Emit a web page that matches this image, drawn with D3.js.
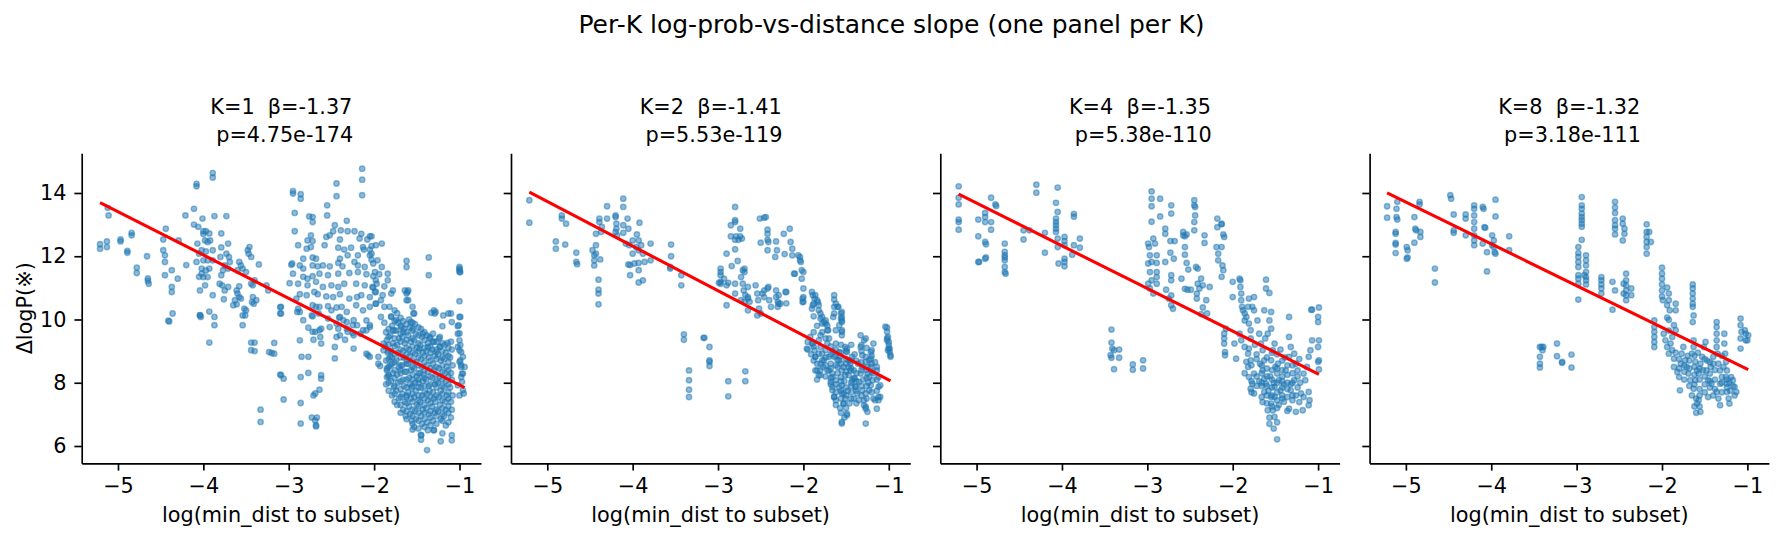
<!DOCTYPE html>
<html>
<head>
<meta charset="utf-8">
<script src="https://cdn.jsdelivr.net/npm/d3@7"></script>
<style>
    body { margin: 0; background: #fff; }
    svg text { font-family: "DejaVu Sans", "Noto Sans CJK JP", sans-serif; fill: #000; }
</style>
</head>
<body>
<div id="chart"></div>
<script>

// ---- data ----
const panelKs = [1, 2, 4, 8];
const betas = [-1.37, -1.41, -1.35, -1.32];
const intercepts = [6.56, 6.68, 6.93, 7.11];
const pValues = ["4.75e-174", "5.53e-119", "5.38e-110", "3.18e-111"];
const xTicks = [-5, -4, -3, -2, -1];
const yTicks = [6, 8, 10, 12, 14];
const xLimits = [-5.425, -0.748];
const yLimits = [5.453, 15.255];

const k1Points = [
    [-5.21,12.38],[-5.21,12.24],[-5.13,12.47],[-5.13,12.29],[-5.11,13.29],[-5.12,13.53],
    [-4.97,12.53],[-4.97,12.47],[-4.89,12.17],[-4.89,12.11],[-4.84,12.74],[-4.84,12.66],
    [-4.78,11.64],[-4.78,11.47],[-4.66,12.0],[-4.65,11.3],[-4.65,11.22],[-4.64,11.13],
    [-4.47,12.53],[-4.44,12.87],[-4.47,12.19],[-4.45,12.03],[-4.45,11.82],[-4.45,11.4],
    [-4.37,11.56],[-4.37,11.03],[-4.37,10.87],[-4.36,10.19],[-4.41,9.96],[-4.40,9.94],
    [-4.30,11.29],[-4.29,12.5],
    [-4.20,11.72],[-4.21,13.29],[-4.11,13.5],[-4.11,13.0],[-4.08,14.29],[-4.08,14.21],[-4.01,13.19],
    [-4.07,12.4],[-4.05,12.08],[-4.08,11.82],[-4.05,11.35],[-4.02,11.45],[-4.04,10.14],[-4.03,10.08],[-4.06,12.93],[-4.0,12.7],
    [-4.00,12.79],[-3.97,12.79],[-3.93,12.72],[-3.98,12.5],[-3.95,12.45],[-3.92,12.5],[-4.02,12.19],[-3.97,12.15],[-3.89,12.19],
    [-4.00,11.87],[-3.95,11.87],[-3.89,11.87],[-4.02,11.61],[-3.97,11.55],[-3.93,11.61],[-4.00,11.34],[-3.95,11.34],[-4.04,10.92],
    [-3.98,11.08],[-3.89,10.77],[-3.93,10.25],[-3.87,10.08],[-3.87,9.82],[-3.93,9.27],[-4.04,10.13],
    [-3.89,14.63],[-3.89,14.49],[-3.87,13.27],[-3.73,13.27],
    [-3.79,12.72],[-3.79,12.28],[-3.71,12.4],[-3.80,11.98],[-3.73,12.08],[-3.70,11.98],[-3.69,11.82],[-3.75,11.71],[-3.77,11.56],[-3.71,11.61],[-3.79,11.4],
    [-3.81,11.13],[-3.78,11.08],[-3.75,10.92],[-3.71,11.03],[-3.76,10.64],
    [-3.58,11.82],[-3.56,11.71],[-3.60,11.56],[-3.54,11.61],[-3.50,11.5],[-3.48,12.19],[-3.47,12.08],[-3.44,11.98],[-3.46,12.29],[-3.35,11.74],
    [-3.61,10.92],[-3.60,10.82],[-3.58,10.71],[-3.63,10.61],[-3.61,10.48],[-3.56,10.66],[-3.58,11.05],[-3.65,10.45],
    [-3.52,10.34],[-3.54,10.13],[-3.54,9.82],[-3.42,10.71],[-3.41,10.5],[-3.43,10.55],[-3.38,10.61],[-3.44,11.13],[-3.42,11.08],[-3.40,11.24],[-3.26,11.08],[-3.24,10.92],
    [-3.44,9.27],[-3.40,9.27],[-3.44,9.03],[-3.40,9.0],[-3.23,8.97],[-3.20,8.94],[-3.17,9.26],[-3.17,8.92],
    [-3.10,8.26],[-3.09,8.24],[-3.06,8.13],[-3.06,7.47],[-3.33,7.15],[-3.33,6.76],[-3.10,10.39],[-3.10,10.19],
    [-3.50,10.29],[-3.51,10.13],
    [-2.14,14.77],[-2.14,14.42],[-2.14,13.93],[-2.44,14.30],[-2.44,13.90],[-2.95,14.06],[-2.95,13.98],[-2.86,13.96],[-2.86,13.82],
    [-2.55,13.61],[-2.55,13.29],[-2.93,13.37],[-2.93,12.79],[-2.32,13.12],[-2.76,13.26],[-2.72,13.24],[-2.72,13.08],
    [-2.46,12.98],[-2.39,12.82],[-2.31,12.79],[-2.23,12.79],[-2.15,12.71],[-2.05,12.63],[-2.48,12.79],
    [-2.56,12.61],[-2.52,12.66],[-2.40,12.53],[-2.17,12.56],[-2.08,12.53],[-2.74,12.66],[-2.72,12.48],[-2.78,12.5],
    [-2.89,12.35],[-2.79,12.24],[-2.74,12.29],[-2.58,12.35],[-2.42,12.27],[-2.35,12.21],[-2.27,12.27],[-2.13,12.29],[-2.12,12.21],[-2.05,12.21],[-1.98,12.35],
    [-2.83,11.92],[-2.72,11.96],[-2.68,11.92],[-2.40,11.92],[-2.31,12.03],[-2.19,12.03],[-2.05,12.03],[-1.96,11.87],[-2.97,11.73],[-2.87,11.71],
    [-2.83,11.61],[-2.72,11.71],[-2.66,11.68],[-2.60,11.71],[-2.52,11.68],[-2.42,11.79],[-2.37,11.68],[-2.23,11.82],[-2.19,11.71],[-2.11,11.66],[-2.01,11.77],
    [-2.95,11.45],[-2.83,11.35],[-2.78,11.29],[-2.72,11.37],[-2.64,11.45],[-2.54,11.40],[-2.42,11.45],[-2.29,11.47],[-2.19,11.50],[-2.09,11.43],[-2.01,11.37],[-1.94,11.43],
    [-2.99,11.15],[-2.89,11.13],[-2.78,11.08],[-2.68,11.19],[-2.60,11.03],[-2.50,11.08],[-2.42,11.03],[-2.35,11.13],[-2.21,11.13],[-2.11,11.08],[-2.01,11.01],[-1.97,11.13],
    [-2.87,10.80],[-2.79,10.77],[-2.70,10.87],[-2.66,10.80],[-2.56,10.73],[-2.48,10.71],[-2.40,10.80],[-2.29,10.66],[-2.20,10.71],[-2.15,10.77],[-2.05,10.71],[-1.99,10.87],
    [-2.89,10.34],[-2.87,10.24],[-2.72,10.45],[-2.68,10.40],[-2.64,10.40],[-2.54,10.42],[-2.50,10.29],[-2.44,10.38],[-2.38,10.40],[-2.32,10.24],[-2.21,10.45],
    [-2.13,10.29],[-2.05,10.40],[-1.98,10.50],[-3.09,10.40],[-3.09,10.19],
    [-2.72,10.10],[-2.54,10.03],[-2.41,10.06],[-2.32,9.92],[-2.25,9.82],[-2.09,9.97],[-2.05,9.76],[-2.62,9.71],[-2.52,9.76],[-2.72,9.61],[-2.42,9.71],
    [-2.40,9.50],[-2.31,9.61],[-2.25,9.57],[-2.13,9.66],
    [-2.96,11.77],[-2.91,10.66],[-2.90,10.24],[-2.73,10.13],[-2.65,10.19],[-2.64,9.66],[-2.63,9.45],[-2.44,9.87],[-2.20,9.82],[-2.16,9.55],
    [-2.87,9.34],[-2.85,8.82],[-2.77,8.82],[-2.77,8.31],[-2.86,8.18],[-2.86,7.36],[-2.86,6.71],[-2.73,6.9],[-2.69,6.81],[-2.68,6.66],[-2.68,6.62],
    [-2.67,6.9],[-2.64,7.78],[-2.62,8.24],[-2.62,8.13],[-2.71,7.6],[-2.69,7.66],[-2.62,9.24],[-2.71,9.36],[-2.69,9.61],[-2.77,9.74],[-2.83,9.98],
    [-2.46,9.13],[-2.46,8.77],[-2.34,9.36],[-2.24,9.08],[-2.24,9.5],[-2.32,9.71],[-2.44,9.45],[-2.36,9.98],[-2.40,10.08],[-2.24,9.98],[-2.09,9.66],
    [-2.05,9.82],[-2.09,8.92],[-2.07,8.87],[-2.05,8.82],[-1.95,8.82],[-1.95,8.6],[-1.93,8.53],[-1.89,9.03],[-1.89,9.24],[-1.85,8.39],[-1.85,8.18],[-1.79,8.6],[-1.81,8.82],
    [-2.03,12.63],[-2.03,12.32],[-2.03,12.08],[-2.03,11.89],[-1.91,12.4],[-1.36,11.96],[-1.36,11.40],[-1.62,11.85],[-1.62,11.66],[-1.00,11.61],[-1.00,11.50],[-1.00,10.58],[-1.91,11.66],
    [-1.99,11.50],[-1.98,11.24],[-2.02,11.03],[-1.98,10.87],[-1.84,11.45],[-1.84,11.24],[-1.88,11.05],[-1.78,10.92],[-1.80,10.82],[-1.90,10.77],[-1.92,10.61],
    [-1.64,10.92],[-1.61,10.87],[-1.62,10.61],[-1.98,10.5],[-1.88,10.4],[-1.76,10.29],[-1.82,10.4],[-1.55,10.4],[-1.53,10.19],[-1.33,10.21],[-1.29,10.19],
    [-1.10,10.19],[-1.00,10.08],[-1.09,9.92],[-1.20,9.79],[-1.02,9.79],[-1.92,10.08],
    [-1.80,10.08],[-1.74,9.98],[-1.68,9.76],[-1.78,9.66],[-1.66,9.61],[-1.57,9.92],[-1.55,9.71],[-1.43,9.55],[-1.35,9.45],[-1.23,9.45],[-1.14,9.26],
    [-1.02,9.55],[-1.00,9.34],[-1.02,9.13],[-0.98,8.97],[-0.96,8.82],[-1.00,8.66],[-0.98,8.5],[-0.96,8.29],[-1.31,9.29],[-1.23,9.13],[-1.27,8.97],[-1.37,9.13],[-1.47,9.08],
    [-1.0,11.66],[-1.0,11.56],[-0.99,11.5],[-0.99,10.08],[-1.01,9.82],[-1.0,9.56],[-0.99,9.19],[-1.0,9.03],[-0.99,8.71],[-0.98,8.56],
    [-0.97,8.29],[-0.98,8.18],[-0.97,8.03],[-0.96,7.76],[-0.95,7.66],[-1.02,7.92],[-1.0,7.6],[-0.94,8.5],
    [-1.30,10.29],[-1.28,10.24],[-1.19,10.13],[-1.13,10.19],[-1.54,10.19],[-1.60,10.61],[-1.62,10.82],[-1.60,10.92],
    [-1.88,9.9],[-1.86,9.6],[-1.85,9.35],[-1.87,9.15],[-1.84,8.95],[-1.86,8.7],[-1.85,8.45],[-1.83,8.2],[-1.86,7.95],
    [-1.80,10.1],[-1.79,9.8],[-1.81,9.5],[-1.78,9.25],[-1.80,9.0],[-1.79,8.8],[-1.81,8.55],[-1.78,8.3],[-1.80,8.05],[-1.77,7.85],[-1.79,7.6],
    [-1.73,10.2],[-1.72,9.9],[-1.74,9.65],[-1.71,9.4],[-1.73,9.2],[-1.72,8.95],[-1.74,8.7],[-1.71,8.5],[-1.73,8.25],[-1.72,8.0],[-1.74,7.75],[-1.71,7.5],[-1.73,7.3],
    [-1.66,9.95],[-1.65,9.7],[-1.67,9.45],[-1.64,9.25],[-1.66,9.0],[-1.65,8.8],[-1.67,8.55],[-1.64,8.35],[-1.66,8.1],[-1.65,7.9],[-1.67,7.65],[-1.64,7.4],[-1.66,7.15],[-1.63,6.95],
    [-1.59,10.0],[-1.58,9.75],[-1.60,9.5],[-1.57,9.3],[-1.59,9.05],[-1.58,8.85],[-1.60,8.6],[-1.57,8.4],[-1.59,8.15],[-1.58,7.95],[-1.60,7.7],[-1.57,7.5],[-1.59,7.25],[-1.58,7.0],[-1.56,6.8],
    [-1.52,9.85],[-1.51,9.55],[-1.53,9.35],[-1.50,9.1],[-1.52,8.9],[-1.51,8.65],[-1.53,8.45],[-1.50,8.2],[-1.52,8.0],[-1.51,7.75],[-1.53,7.55],[-1.50,7.3],[-1.52,7.1],[-1.51,6.85],[-1.53,6.6],
    [-1.45,9.7],[-1.44,9.45],[-1.46,9.2],[-1.43,8.95],[-1.45,8.75],[-1.44,8.5],[-1.46,8.3],[-1.43,8.05],[-1.45,7.85],[-1.44,7.6],[-1.46,7.4],[-1.43,7.15],[-1.45,6.95],[-1.44,6.7],[-1.45,6.35],
    [-1.38,9.5],[-1.37,9.25],[-1.39,9.0],[-1.36,8.8],[-1.38,8.55],[-1.37,8.35],[-1.39,8.1],[-1.36,7.9],[-1.38,7.65],[-1.37,7.45],[-1.39,7.2],[-1.36,7.0],[-1.38,6.75],[-1.37,6.5],[-1.38,5.87],
    [-1.31,9.55],[-1.30,9.3],[-1.32,9.05],[-1.29,8.85],[-1.31,8.6],[-1.30,8.4],[-1.32,8.15],[-1.29,7.95],[-1.31,7.7],[-1.30,7.5],[-1.32,7.25],[-1.29,7.05],[-1.31,6.8],[-1.30,6.5],
    [-1.24,9.4],[-1.23,9.15],[-1.25,8.9],[-1.22,8.7],[-1.24,8.45],[-1.23,8.2],[-1.25,8.0],[-1.22,7.75],[-1.24,7.55],[-1.23,7.3],[-1.25,7.1],[-1.22,6.85],[-1.22,6.15],
    [-1.17,9.2],[-1.16,8.95],[-1.18,8.75],[-1.15,8.5],[-1.17,8.3],[-1.16,8.05],[-1.18,7.85],[-1.15,7.6],[-1.17,7.4],[-1.16,7.15],[-1.18,6.95],[-1.16,6.65],
    [-1.10,9.3],[-1.09,9.05],[-1.11,8.8],[-1.08,8.55],[-1.10,8.3],[-1.09,8.1],[-1.11,7.85],[-1.08,7.6],[-1.10,7.4],[-1.09,7.15],[-1.10,6.9],[-1.09,6.34],[-1.09,6.18],
    [-1.55,8.25],[-1.48,8.0],[-1.62,8.7],[-1.42,8.25],[-1.35,7.75],[-1.27,8.5],[-1.56,7.85],[-1.69,8.4],[-1.48,7.25],[-1.41,7.9],[-1.34,8.2],[-1.62,7.6],[-1.28,7.4],
    [-1.45,6.2],[-1.45,6.34],[-1.55,6.52],[-1.30,6.5],[-1.20,6.4],
    [-1.83,9.7],[-1.83,9.45],[-1.83,9.2],[-1.83,9.0],[-1.83,8.75],[-1.83,8.5],[-1.83,8.25],[-1.83,8.0],[-1.83,7.75],
    [-1.76,9.95],[-1.76,9.65],[-1.76,9.4],[-1.76,9.15],[-1.76,8.9],[-1.76,8.65],[-1.76,8.4],[-1.76,8.15],[-1.76,7.9],[-1.76,7.65],[-1.76,7.4],
    [-1.69,10.05],[-1.69,9.8],[-1.69,9.55],[-1.69,9.3],[-1.69,9.05],[-1.69,8.8],[-1.69,8.55],[-1.69,8.3],[-1.69,8.05],[-1.69,7.8],[-1.69,7.55],[-1.69,7.3],[-1.69,7.05],
    [-1.62,9.85],[-1.62,9.6],[-1.62,9.35],[-1.62,9.1],[-1.62,8.9],[-1.62,8.6],[-1.62,8.35],[-1.62,8.1],[-1.62,7.85],[-1.62,7.55],[-1.62,7.35],[-1.62,7.1],[-1.62,6.85],
    [-1.55,9.9],[-1.55,9.65],[-1.55,9.4],[-1.55,9.15],[-1.55,8.95],[-1.55,8.7],[-1.55,8.5],[-1.55,8.1],[-1.55,7.9],[-1.55,7.65],[-1.55,7.4],[-1.55,7.15],[-1.55,6.95],[-1.55,6.7],
    [-1.48,9.75],[-1.48,9.5],[-1.48,9.25],[-1.48,9.0],[-1.48,8.8],[-1.48,8.55],[-1.48,8.3],[-1.48,8.1],[-1.48,7.85],[-1.48,7.6],[-1.48,7.45],[-1.48,7.05],[-1.48,6.8],[-1.48,6.55],
    [-1.41,9.6],[-1.41,9.35],[-1.41,9.1],[-1.41,8.85],[-1.41,8.65],[-1.41,8.4],[-1.41,8.15],[-1.41,7.7],[-1.41,7.5],[-1.41,7.3],[-1.41,7.05],[-1.41,6.85],[-1.41,6.6],
    [-1.34,9.4],[-1.34,9.15],[-1.34,8.95],[-1.34,8.7],[-1.34,8.45],[-1.34,7.95],[-1.34,7.55],[-1.34,7.35],[-1.34,7.1],[-1.34,6.9],[-1.34,6.65],
    [-1.27,9.3],[-1.27,9.05],[-1.27,8.75],[-1.27,8.25],[-1.27,8.05],[-1.27,7.85],[-1.27,7.6],[-1.27,7.15],[-1.27,6.95],[-1.27,6.7],
    [-1.20,9.25],[-1.20,9.0],[-1.20,8.8],[-1.20,8.55],[-1.20,8.35],[-1.20,8.1],[-1.20,7.9],[-1.20,7.65],[-1.20,7.45],[-1.20,7.2],[-1.20,7.0],[-1.20,6.8],
    [-1.13,9.1],[-1.13,8.85],[-1.13,8.65],[-1.13,8.4],[-1.13,8.2],[-1.13,7.95],[-1.13,7.7],[-1.13,7.5],[-1.13,7.25],[-1.13,7.05],[-1.13,6.75]
];

const k2Points = [
    [-5.21,13.77],[-5.21,13.06],
    [-4.90,12.47],[-4.90,12.24],[-4.83,13.29],[-4.83,13.19],[-4.78,13.03],[-4.79,12.37],
    [-4.66,12.11],[-4.66,11.82],[-4.65,11.75],
    [-4.47,12.19],[-4.45,12.03],[-4.45,11.87],[-4.45,11.71],[-4.43,12.35],[-4.43,12.71],[-4.43,12.08],
    [-4.40,11.26],[-4.40,10.94],[-4.40,10.82],[-4.40,10.48],
    [-4.38,11.9],[-4.39,13.19],[-4.39,13.08],[-4.37,12.77],[-4.36,12.93],[-4.30,13.58],[-4.30,13.19],
    [-4.20,13.29],[-4.20,13.24],[-4.19,13.03],[-4.19,12.87],[-4.20,12.77],[-4.18,12.66],[-4.11,13.82],[-4.11,13.56],[-4.11,12.98],[-4.11,12.74],
    [-4.06,13.19],[-4.05,12.87],[-3.92,13.06],
    [-4.08,12.40],[-4.04,12.35],[-4.0,12.5],[-3.96,12.29],[-3.95,12.69],[-3.93,12.5],[-3.93,12.19],[-3.90,12.35],[-3.88,12.08],[-4.0,12.08],
    [-4.05,11.74],[-4.03,11.72],[-3.98,11.77],[-3.93,11.79],[-3.86,11.82],[-3.79,11.87],[-3.79,12.4],[-3.93,11.56],[-4.03,11.40],[-3.93,11.17],[-3.88,11.24],
    [-3.55,12.37],[-3.55,12.0],[-3.56,11.66],[-3.56,11.61],[-3.43,11.40],[-3.43,11.08],
    [-3.40,9.53],[-3.40,9.36],[-3.17,9.42],[-3.16,9.42],[-3.10,9.13],[-3.10,8.71],[-3.10,8.66],[-3.10,8.53],
    [-3.34,8.39],[-3.34,8.08],[-3.34,7.78],[-3.34,7.55],[-2.88,8.05],[-2.88,7.57],[-2.68,8.36],[-2.68,8.05],
    [-2.80,13.56],[-2.85,12.98],[-2.80,13.14],[-2.80,13.08],[-2.74,12.87],[-2.74,12.63],[-2.79,12.63],[-2.85,12.63],[-2.76,12.52],[-2.72,12.56],
    [-2.80,12.52],[-2.80,12.22],[-2.90,12.08],[-2.84,11.69],[-2.77,11.85],
    [-2.97,11.61],[-2.97,11.50],[-2.97,11.40],[-2.97,11.19],[-2.97,11.13],[-2.99,11.16],[-2.93,11.29],[-2.90,11.08],[-2.90,10.45],[-2.88,11.16],
    [-2.80,11.13],[-2.80,10.82],[-2.73,11.34],[-2.71,11.56],[-2.69,11.61],[-2.69,11.50],[-2.71,11.13],[-2.70,10.92],[-2.68,10.77],[-2.65,11.03],
    [-2.65,10.71],[-2.63,10.56],[-2.65,10.29],[-2.73,10.61],[-2.69,10.56],[-2.65,10.66],
    [-2.56,11.08],[-2.54,10.82],[-2.53,10.61],[-2.52,10.34],[-2.50,10.19],[-2.54,10.13],[-2.48,10.82],[-2.46,10.92],[-2.46,10.71],[-2.42,10.98],
    [-2.41,11.03],[-2.40,10.61],[-2.38,10.40],[-2.32,10.92],[-2.32,10.71],[-2.30,10.56],[-2.29,10.50],[-2.30,10.40],[-2.20,10.87],[-2.20,10.51],
    [-2.51,13.19],[-2.46,13.22],[-2.44,13.24],[-2.42,12.84],[-2.42,12.71],[-2.42,12.52],[-2.41,12.45],[-2.50,12.43],[-2.42,12.19],[-2.32,12.47],
    [-2.31,12.19],[-2.33,11.98],[-2.23,12.71],[-2.16,12.87],[-2.15,12.45],[-2.13,12.24],[-2.13,12.03],[-2.22,12.07],[-2.10,11.45],[-2.06,12.03],
    [-2.04,11.98],[-2.04,11.87],[-2.03,11.82],[-2.02,11.56],[-2.0,11.50],[-2.02,11.29],[-2.0,10.98],[-2.0,10.71],[-2.0,10.56],
    [-2.11,11.45],[-2.21,10.87],[-2.29,10.77],[-2.27,10.50],[-2.01,10.66],[-2.01,10.55],
    [-1.89,10.77],[-1.87,10.66],[-1.89,10.45],[-1.84,10.61],[-1.82,10.45],[-1.80,10.19],[-1.78,10.08],[-1.76,9.92],[-1.74,9.87],[-1.72,9.81],[-1.71,9.66],
    [-1.64,10.63],[-1.64,10.40],[-1.60,10.40],[-1.55,10.24],[-1.55,10.08],[-1.55,9.92],[-1.56,10.03],[-1.55,9.61],[-1.55,9.50],[-1.65,10.08],[-1.62,9.66],
    [-1.95,9.29],[-1.95,9.05],[-1.92,9.45],[-1.89,9.24],[-1.87,9.03],[-1.86,8.82],[-1.84,8.60],[-1.86,8.39],[-1.82,8.24],[-1.80,9.13],[-1.78,8.92],
    [-1.76,8.71],[-1.77,8.50],[-1.82,9.34],[-1.72,9.24],[-1.74,9.03],[-1.70,8.82],[-1.72,8.39],[-1.66,8.29],[-1.68,8.03],[-1.66,7.76],[-1.64,7.55],
    [-1.62,8.08],[-1.60,8.50],[-1.58,8.71],[-1.55,8.39],[-1.56,8.18],[-1.55,7.92],[-1.53,7.66],[-1.53,7.34],[-1.51,7.50],[-1.55,6.76],[-1.49,7.02],
    [-1.47,8.24],[-1.45,8.60],[-1.43,8.82],[-1.41,8.39],[-1.43,8.08],[-1.39,7.87],[-1.35,8.03],[-1.33,8.29],[-1.31,8.50],[-1.32,9.19],[-1.31,8.87],
    [-1.27,8.66],[-1.25,8.29],[-1.21,8.76],[-1.21,8.97],[-1.21,8.50],[-1.19,8.08],[-1.27,7.66],[-1.29,7.29],[-1.27,7.18],[-1.27,6.71],[-1.18,7.50],
    [-1.12,7.55],[-1.12,7.45],[-1.14,7.18],[-1.10,7.92],[-1.33,9.50],[-1.27,9.40],[-1.49,8.97],[-1.51,9.13],[-1.62,9.24],[-1.58,8.97],[-1.64,8.82],
    [-1.47,8.50],[-1.41,7.50],[-1.37,7.66],[-1.23,7.76],[-1.35,7.45],
    [-1.60,8.30],[-1.52,8.05],[-1.48,7.75],[-1.44,7.9],[-1.58,7.85],[-1.50,8.6],[-1.68,8.6],[-1.40,8.15],[-1.36,8.6],[-1.30,8.1],[-1.24,8.0],
    [-1.46,7.35],[-1.57,7.2],[-1.52,6.9],[-1.62,7.3],[-1.70,9.4],[-1.78,9.6],[-1.88,10.1],[-1.84,9.8],[-1.66,9.0],[-1.40,8.9],[-1.18,8.3],
    [-1.16,8.65],[-1.84,8.1],[-1.91,8.9],
    [-1.90,10.87],[-1.86,10.77],[-1.88,10.50],[-1.90,10.34],[-1.82,10.29],[-1.83,10.55],[-1.80,10.03],[-1.78,9.87],[-1.74,9.97],[-1.72,9.66],
    [-1.64,10.77],[-1.64,10.19],[-1.62,10.50],[-1.59,10.40],[-1.56,10.19],[-1.55,9.97],[-1.55,9.66],[-1.58,9.82],
    [-1.96,9.08],[-1.90,9.24],[-1.86,8.82],[-1.82,8.92],[-1.78,8.71],[-1.84,8.39],[-1.80,8.24],[-1.70,8.39],[-1.66,8.18],[-1.66,7.87],[-1.64,7.55],
    [-1.60,8.71],[-1.57,8.82],[-1.53,8.50],[-1.51,8.24],[-1.49,9.08],[-1.47,8.71],[-1.45,8.39],[-1.41,8.13],[-1.39,7.87],[-1.33,9.13],[-1.29,9.34],
    [-1.27,8.82],[-1.25,8.50],[-1.23,8.18],[-1.21,7.92],[-1.23,8.71],[-1.20,9.03],[-1.18,9.24],[-1.31,7.76],[-1.29,7.45],[-1.27,7.24],[-1.25,7.08],
    [-1.55,7.66],[-1.53,7.34],[-1.49,6.97],[-1.55,6.71],[-1.14,8.39],[-1.12,8.18],[-1.12,7.87],[-1.10,7.55],[-1.16,7.45],
    [-1.04,9.77],[-1.02,9.34],[-1.00,9.08],[-0.98,8.82],
    [-1.02,9.74],[-1.02,9.61],[-1.01,9.45],[-1.00,9.29],[-1.00,9.19],[-0.99,9.08],[-0.99,8.97],[-0.98,8.87],[-1.01,9.03],[-1.02,9.40],
    [-1.88,9.6],[-1.88,9.15],[-1.88,8.7],[-1.80,9.5],[-1.80,8.6],[-1.80,8.4],[-1.74,9.4],[-1.74,8.8],[-1.74,8.55],[-1.74,8.2],
    [-1.68,9.15],[-1.68,8.9],[-1.68,8.45],[-1.68,8.15],[-1.68,7.95],[-1.62,9.05],[-1.62,8.85],[-1.62,8.55],[-1.62,7.95],[-1.62,7.7],[-1.62,7.45],
    [-1.56,9.2],[-1.56,8.95],[-1.56,8.6],[-1.56,8.05],[-1.56,7.75],[-1.56,7.5],[-1.56,7.05],[-1.50,9.0],[-1.50,8.75],[-1.50,8.35],[-1.50,7.85],[-1.50,7.6],[-1.50,7.2],
    [-1.44,9.2],[-1.44,8.7],[-1.44,8.45],[-1.44,8.0],[-1.44,7.7],[-1.44,7.5],[-1.38,8.7],[-1.38,8.3],[-1.38,8.05],[-1.38,7.75],[-1.38,7.35],
    [-1.32,9.0],[-1.32,8.65],[-1.32,8.4],[-1.32,7.9],[-1.32,7.6],[-1.26,9.1],[-1.26,8.4],[-1.26,8.15],[-1.26,7.9],[-1.26,7.5],
    [-1.20,8.85],[-1.20,8.6],[-1.20,8.35],[-1.20,7.7],[-1.14,8.5],[-1.14,8.1],[-1.14,7.75]
];

const k4Points = [
    [-5.21,14.21],[-5.21,13.85],[-5.21,13.64],[-5.21,13.16],[-5.21,13.08],[-5.21,12.84],
    [-4.98,13.16],[-4.98,12.63],[-4.98,11.82],[-4.97,11.82],
    [-4.90,13.37],[-4.90,13.24],[-4.90,13.08],[-4.90,12.45],[-4.89,12.38],[-4.90,11.92],[-4.89,11.96],
    [-4.83,13.85],[-4.83,13.08],[-4.83,12.84],[-4.78,13.64],[-4.77,13.59],
    [-4.67,12.40],[-4.67,12.14],[-4.67,12.03],[-4.67,11.96],[-4.67,11.87],[-4.67,11.66],[-4.67,11.50],[-4.66,11.45],
    [-4.45,12.82],[-4.45,12.53],[-4.38,12.82],[-4.30,14.26],[-4.30,14.01],[-4.20,12.74],[-4.20,12.11],
    [-4.07,13.69],[-4.07,13.19],[-4.07,13.08],[-4.07,12.98],[-4.07,12.87],[-4.07,12.77],[-4.05,13.40],[-4.05,14.17],[-4.05,12.56],[-4.05,12.29],
    [-4.04,11.77],[-3.97,12.61],[-3.97,12.48],[-3.97,12.35],[-3.97,11.92],[-3.97,11.82],[-3.97,11.68],[-3.86,13.34],[-3.86,13.25],[-3.86,12.35],
    [-3.79,12.56],[-3.79,12.27],[-3.88,12.05],
    [-3.42,9.68],[-3.42,9.27],[-3.41,9.08],[-3.39,9.03],[-3.43,8.87],[-3.42,8.79],[-3.39,8.43],[-3.33,9.05],[-3.33,8.79],[-3.17,8.58],[-3.17,8.41],[-3.05,8.71],[-3.05,8.45],
    [-2.95,14.05],[-2.95,13.82],[-2.95,13.58],[-2.95,13.09],[-2.85,13.82],[-2.85,13.26],[-2.99,12.40],[-2.98,12.29],[-2.97,12.03],[-2.99,11.77],
    [-2.97,11.50],[-2.95,11.24],[-2.99,11.13],[-2.97,10.98],[-2.93,10.82],[-2.93,12.56],[-2.95,11.82],[-2.91,12.40],[-2.89,12.03],[-2.89,11.79],
    [-2.89,11.50],[-2.89,11.34],[-2.89,11.13],[-2.79,12.87],[-2.79,12.71],[-2.79,11.82],[-2.78,10.94],[-2.73,12.11],[-2.73,12.48],[-2.68,12.48],
    [-2.69,11.92],[-2.72,11.40],[-2.72,11.24],[-2.72,10.76],[-2.75,10.66],[-2.72,10.45],[-2.70,10.34],[-2.72,13.61],[-2.72,13.35],
    [-2.60,11.29],[-2.58,12.77],[-2.58,12.66],[-2.56,12.63],[-2.54,12.69],[-2.56,12.29],[-2.56,12.05],[-2.54,11.79],[-2.52,11.58],[-2.53,10.94],
    [-2.56,10.97],[-2.49,10.94],[-2.45,13.77],[-2.45,13.61],[-2.44,13.56],[-2.44,13.29],[-2.45,13.08],[-2.45,12.82],[-2.43,11.66],[-2.41,11.61],
    [-2.41,11.13],[-2.39,10.98],[-2.42,10.82],[-2.42,10.66],[-2.37,11.29],[-2.35,11.08],[-2.35,10.38],[-2.37,10.17],[-2.31,10.61],[-2.27,11.03],
    [-2.30,10.19],[-2.33,12.66],[-2.33,12.42],
    [-2.18,13.19],[-2.18,12.92],[-2.13,13.03],[-2.13,13.01],[-2.11,12.69],[-2.10,12.61],[-2.19,12.29],[-2.17,12.08],[-2.17,11.87],[-2.13,12.29],
    [-2.12,11.71],[-2.11,11.56],[-2.13,11.35],
    [-2.10,9.55],[-2.10,9.40],[-2.10,9.24],[-2.09,8.97],[-2.09,8.87],[-2.08,9.71],[-2.00,11.19],[-2.00,10.71],[-1.98,9.24],[-1.96,8.76],
    [-1.92,11.29],[-1.91,11.24],[-1.91,11.03],[-1.90,10.82],[-1.90,10.61],[-1.89,10.40],[-1.88,10.29],[-1.86,10.19],[-1.86,9.97],[-1.84,10.08],
    [-1.82,10.40],[-1.81,9.87],[-1.79,9.66],[-1.79,9.40],[-1.81,9.08],[-1.77,10.40],[-1.75,10.29],[-1.81,10.66],[-1.75,10.71],[-1.92,9.55],
    [-1.90,9.34],[-1.86,9.13],[-1.82,8.92],[-1.84,8.66],[-1.82,8.50],[-1.79,8.71],[-1.81,8.18],[-1.75,8.29],[-1.77,7.97],[-1.79,7.81],
    [-1.75,7.66],[-1.71,9.97],[-1.69,9.55],[-1.67,9.24],[-1.65,9.03],[-1.63,8.71],[-1.65,8.39],[-1.63,8.13],[-1.61,7.97],[-1.63,7.71],
    [-1.65,7.39],[-1.59,7.13],[-1.55,7.34],[-1.53,7.13],[-1.57,6.90],[-1.51,6.92],[-1.61,11.26],[-1.61,10.98],[-1.57,10.84],[-1.63,10.29],
    [-1.55,10.24],[-1.57,9.97],[-1.55,9.71],[-1.59,9.55],[-1.51,9.24],[-1.53,9.03],[-1.55,8.71],[-1.50,8.50],[-1.48,8.29],[-1.46,8.08],
    [-1.51,7.87],[-1.44,7.76],[-1.42,7.60],[-1.48,7.45],[-1.51,7.55],[-1.38,8.39],[-1.36,8.55],[-1.34,8.82],[-1.34,9.45],[-1.34,10.08],
    [-1.32,9.13],[-1.28,8.92],[-1.26,8.60],[-1.24,8.39],[-1.28,8.08],[-1.32,7.76],[-1.30,7.45],[-1.34,7.18],[-1.36,7.11],[-1.26,7.08],
    [-1.22,7.39],[-1.20,7.66],[-1.17,7.55],[-1.15,8.08],[-1.17,8.29],[-1.18,7.13],[-1.11,7.71],[-1.10,7.45],[-1.11,7.29],
    [-1.08,10.31],[-1.07,10.31],[-0.99,10.38],[-1.00,10.08],[-1.00,9.92],[-0.99,9.34],[-1.00,9.13],[-0.99,8.71],[-1.00,8.66],[-0.99,8.42],
    [-1.07,9.34],[-1.09,9.03],[-1.11,8.82],[-1.13,8.50],
    [-1.72,8.9],[-1.68,8.6],[-1.6,8.45],[-1.56,8.2],[-1.52,8.0],[-1.47,8.6],[-1.42,8.2],[-1.4,7.95],[-1.58,7.75],[-1.69,8.05],
    [-1.46,7.3],[-1.39,8.8],[-1.3,8.3],[-1.21,8.0],[-1.22,8.75],[-1.62,9.4],[-1.74,9.2],[-1.86,8.3],[-1.44,9.05],[-1.55,7.55],
    [-1.66,7.9],[-1.32,7.95],[-1.26,7.6],[-1.4,7.4],[-1.57,6.7],[-1.48,6.75],[-1.52,6.55],[-1.48,6.21],
    [-1.78,8.55],[-1.78,8.05],[-1.78,7.7],[-1.72,8.75],[-1.72,8.2],[-1.72,7.9],[-1.66,8.55],[-1.66,8.3],[-1.66,8.0],[-1.66,7.55],
    [-1.60,8.8],[-1.60,8.2],[-1.60,7.9],[-1.60,7.6],[-1.60,7.35],[-1.54,8.95],[-1.54,8.4],[-1.54,8.1],[-1.54,7.85],[-1.54,7.6],[-1.54,7.25],
    [-1.48,8.9],[-1.48,8.45],[-1.48,8.0],[-1.48,7.7],[-1.48,7.2],[-1.42,8.7],[-1.42,8.4],[-1.42,8.05],[-1.42,7.85],[-1.42,7.5],
    [-1.36,8.25],[-1.36,8.0],[-1.36,7.8],[-1.36,7.55],[-1.30,8.55],[-1.30,8.0],[-1.30,7.6],[-1.24,8.2],[-1.24,7.85]
];

const k8Points = [
    [-5.22,13.58],[-5.22,13.22],
    [-5.12,12.77],[-5.12,12.71],[-5.11,13.5],[-5.11,13.24],[-5.10,13.16],[-5.12,12.42],[-5.12,12.37],[-5.12,12.10],[-5.10,13.72],
    [-4.99,12.29],[-4.98,12.19],[-4.98,11.96],[-4.99,11.92],
    [-4.90,13.24],[-4.89,12.87],[-4.88,12.82],[-4.84,13.72],[-4.84,13.64],[-4.83,12.77],[-4.83,12.61],[-4.90,12.43],
    [-4.66,11.61],[-4.66,11.17],
    [-4.48,13.93],[-4.47,13.82],[-4.44,13.32],[-4.44,12.82],[-4.44,12.74],
    [-4.30,13.32],[-4.30,13.19],[-4.30,12.66],[-4.20,13.61],[-4.20,13.5],[-4.20,13.29],[-4.20,13.08],[-4.20,12.87],[-4.20,12.66],[-4.20,12.50],
    [-4.20,12.35],[-4.10,13.56],[-4.09,13.50],[-4.08,12.92],[-4.07,12.90],[-4.10,12.40],
    [-4.05,11.52],[-4.05,12.13],[-3.99,12.66],[-3.97,12.50],[-3.97,12.29],[-3.96,12.13],[-3.95,12.08],[-3.99,12.35],[-3.95,13.79],[-3.95,13.26],
    [-3.79,12.63],[-3.79,12.19],
    [-3.43,9.13],[-3.41,9.13],[-3.39,9.13],[-3.43,8.82],[-3.43,8.60],[-3.43,8.48],[-3.40,9.03],[-3.23,9.24],[-3.23,8.84],[-3.17,8.66],
    [-3.17,8.63],[-3.06,8.89],[-3.06,8.48],
    [-2.94,13.87],[-2.94,13.61],[-2.94,13.50],[-2.94,13.35],[-2.94,13.24],[-2.94,13.14],[-2.94,13.03],[-2.94,12.93],[-2.94,12.52],[-2.98,12.29],
    [-2.98,12.10],[-2.98,11.98],[-2.98,11.82],[-2.98,11.66],[-2.98,11.40],[-2.98,11.29],[-2.98,11.13],[-2.98,10.63],[-2.89,12.03],[-2.89,11.87],
    [-2.89,11.71],[-2.89,11.50],[-2.89,11.34],[-2.89,11.24],[-2.89,11.11],[-2.91,11.40],
    [-2.71,11.34],[-2.71,11.24],[-2.71,11.11],[-2.71,10.98],[-2.71,10.82],[-2.58,11.19],[-2.55,10.92],[-2.58,10.31],
    [-2.55,13.72],[-2.55,13.54],[-2.55,13.37],[-2.55,13.14],[-2.55,12.98],[-2.55,12.87],[-2.55,12.69],[-2.46,13.19],[-2.46,13.03],[-2.44,12.87],
    [-2.44,12.71],[-2.46,12.50],
    [-2.42,11.45],[-2.42,11.24],[-2.42,11.08],[-2.42,10.92],[-2.42,10.77],[-2.42,10.61],[-2.36,10.98],[-2.36,10.77],[-2.45,11.13],[-2.45,10.82],
    [-2.18,13.01],[-2.18,12.77],[-2.18,12.61],[-2.18,12.45],[-2.18,12.29],[-2.18,12.08],[-2.15,12.77],[-2.13,12.45],
    [-2.09,9.97],[-2.09,9.76],[-2.09,9.61],[-2.09,9.45],[-2.09,9.29],[-2.09,9.13],
    [-2.0,11.64],[-2.0,11.45],[-2.0,11.29],[-2.0,11.11],[-2.0,10.92],[-2.0,10.73],[-1.99,10.61],
    [-1.94,11.01],[-1.92,10.82],[-1.92,10.61],[-1.94,10.45],[-1.94,10.06],[-1.92,9.99],[-1.91,10.29],[-1.84,10.50],[-1.84,10.29],[-1.86,9.82],[-1.84,9.66],
    [-1.64,11.11],[-1.64,10.98],[-1.64,10.82],[-1.64,10.66],[-1.64,10.50],[-1.64,10.40],[-1.63,10.13],[-1.64,9.92],
    [-1.98,9.55],[-1.96,9.34],[-1.94,9.13],[-1.92,8.92],[-1.90,9.24],[-1.88,9.03],[-1.86,8.76],[-1.86,8.50],[-1.82,8.34],[-1.80,8.18],
    [-1.79,7.76],[-1.78,8.60],[-1.77,8.92],[-1.75,9.13],[-1.73,8.71],[-1.71,8.50],[-1.69,8.29],[-1.67,8.08],[-1.65,8.92],[-1.63,9.13],
    [-1.63,9.34],[-1.61,8.66],[-1.59,8.39],[-1.61,8.08],[-1.63,7.81],[-1.60,7.50],[-1.59,7.34],[-1.57,7.45],[-1.60,7.05],[-1.55,7.08],
    [-1.57,8.29],[-1.55,8.60],[-1.53,8.82],[-1.51,9.13],[-1.49,9.29],[-1.48,8.39],[-1.46,8.08],[-1.44,8.29],[-1.42,7.97],[-1.40,8.60],
    [-1.40,8.82],[-1.36,9.92],[-1.36,9.76],[-1.36,9.55],[-1.36,9.34],[-1.36,9.13],[-1.35,8.92],[-1.34,8.60],[-1.32,8.39],[-1.30,8.18],
    [-1.32,7.97],[-1.36,7.71],[-1.34,7.50],[-1.32,7.29],[-1.27,9.55],[-1.27,9.24],[-1.26,8.92],[-1.25,8.66],[-1.24,8.39],[-1.25,8.18],
    [-1.24,7.97],[-1.24,7.71],[-1.22,7.50],[-1.19,8.18],[-1.17,8.08],[-1.15,7.87],[-1.13,7.71],[-1.15,7.60],[-1.21,7.34],
    [-1.08,10.03],[-1.08,9.82],[-1.07,9.61],[-1.08,9.40],[-1.08,9.08],[-1.03,9.66],[-1.02,9.55],[-1.02,9.34],[-1.0,9.34],[-0.99,9.5],
    [-1.70,8.85],[-1.58,8.95],[-1.52,8.4],[-1.47,8.7],[-1.43,8.5],[-1.56,7.8],[-1.50,7.95],[-1.65,7.6],[-1.28,8.5],[-1.21,8.0],
    [-1.84,8.95],[-1.74,8.35],[-1.46,7.55],[-1.40,7.6],[-1.30,7.7],[-1.92,9.65],[-1.88,9.45],[-1.62,7.25],[-1.20,7.75],[-1.17,7.9],
    [-1.80,8.75],[-1.80,8.45],[-1.74,8.55],[-1.74,8.1],[-1.68,8.7],[-1.68,8.45],[-1.68,7.9],[-1.62,8.85],[-1.62,8.5],[-1.62,8.25],[-1.62,7.95],
    [-1.56,8.45],[-1.56,8.1],[-1.56,7.6],[-1.56,7.25],[-1.50,8.75],[-1.50,8.2],[-1.50,7.7],[-1.44,8.65],[-1.44,8.05],[-1.44,7.85],
    [-1.38,8.4],[-1.38,8.1],[-1.38,7.8],[-1.30,8.85],[-1.30,8.0],[-1.24,8.1],[-1.24,7.85]
];

const allPoints = [k1Points, k2Points, k4Points, k8Points];

class PanelVis {
    constructor(_svg, _data, _index) {
        this.svg = _svg;
        this.data = _data;
        this.index = _index;

        this.initVis();
    }

    initVis() {
        let vis = this;

        vis.margin = {left: 81.7 + vis.index * 429.3, top: 153.3};
        vis.width = 399.3;
        vis.height = 310;

        vis.g = vis.svg.append("g")
            .attr("transform", "translate(" + vis.margin.left + "," + vis.margin.top + ")");

        vis.x = d3.scaleLinear().domain(xLimits).range([0, vis.width]);
        vis.y = d3.scaleLinear().domain(yLimits).range([vis.height, 0]);

        vis.updateVis();
    }

    updateVis() {
        let vis = this;

        // scatter points
        vis.g.append("g").selectAll("circle")
            .data(vis.data)
            .enter().append("circle")
            .attr("cx", d => vis.x(d[0]))
            .attr("cy", d => vis.y(d[1]))
            .attr("r", 2.7)
            .attr("fill", "#1f77b4")
            .attr("fill-opacity", 0.5)
            .attr("stroke", "#1f77b4")
            .attr("stroke-opacity", 0.5)
            .attr("stroke-width", 1.4);

        // fitted line over the x range of the points
        let beta = betas[vis.index];
        let a = intercepts[vis.index];
        let ext = d3.extent(vis.data, d => d[0]);
        let line = d3.line()
            .x(d => vis.x(d))
            .y(d => vis.y(a + beta * d));

        vis.g.append("path")
            .datum(ext)
            .attr("fill", "none")
            .attr("stroke", "#ff0000")
            .attr("stroke-width", 3.1)
            .attr("d", line);

        // axes
        let xAxis = d3.axisBottom(vis.x)
            .tickValues(xTicks)
            .tickSize(7.3)
            .tickSizeOuter(0)
            .tickPadding(8)
            .tickFormat(d3.format("d"));

        let yAxis = d3.axisLeft(vis.y)
            .tickValues(yTicks)
            .tickSize(7.3)
            .tickSizeOuter(0)
            .tickPadding(8)
            .tickFormat(vis.index === 0 ? d3.format("d") : "");

        let gx = vis.g.append("g")
            .attr("transform", "translate(0," + vis.height + ")")
            .call(xAxis);
        let gy = vis.g.append("g").call(yAxis);

        [gx, gy].forEach(function (ax) {
            ax.attr("font-family", null).attr("font-size", null);
            ax.selectAll("path, line").attr("stroke", "#000").attr("stroke-width", 1.67);
            ax.selectAll("text").style("font-size", "20.8px");
        });

        // x label
        vis.g.append("text")
            .attr("x", vis.width / 2)
            .attr("y", vis.height + 59)
            .attr("text-anchor", "middle")
            .style("font-size", "20.8px")
            .text("log(min_dist to subset)");

        if (vis.index === 0) {
            vis.g.append("text")
                .attr("transform", "translate(-50," + (vis.height / 2) + ") rotate(-90)")
                .attr("text-anchor", "middle")
                .style("font-size", "20.8px")
                .text("ΔlogP(※)");
        }

        // two-line title
        vis.g.append("text")
            .attr("x", vis.width / 2)
            .attr("y", -39.3)
            .attr("text-anchor", "middle")
            .style("font-size", "20.8px")
            .style("white-space", "pre")
            .text("K=" + panelKs[vis.index] + "  β=" + betas[vis.index].toFixed(2));

        vis.g.append("text")
            .attr("x", vis.width / 2)
            .attr("y", -11.8)
            .attr("text-anchor", "middle")
            .style("font-size", "20.8px")
            .style("white-space", "pre")
            .text(" p=" + pValues[vis.index]);
    }
}

let svg = d3.select("#chart").append("svg")
    .attr("width", 1783)
    .attr("height", 542);

svg.append("text")
    .attr("x", 891.5)
    .attr("y", 33)
    .attr("text-anchor", "middle")
    .style("font-size", "25px")
    .text("Per-K log-prob-vs-distance slope (one panel per K)");

allPoints.forEach(function (pts, i) {
    new PanelVis(svg, pts, i);
});

</script>
</body>
</html>
